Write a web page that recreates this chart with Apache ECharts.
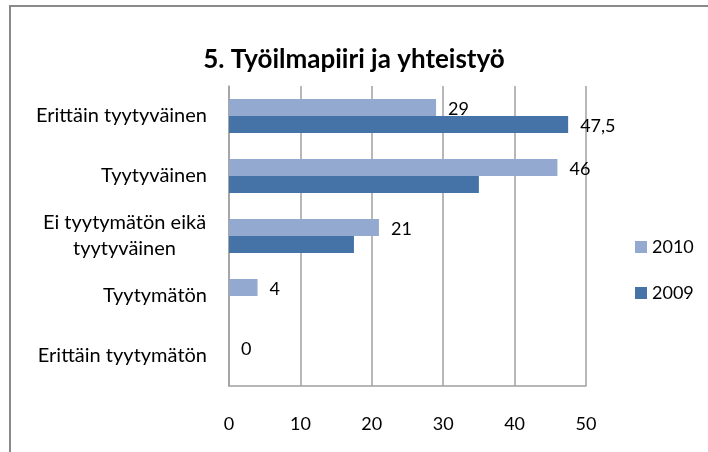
<!DOCTYPE html>
<html>
<head>
<meta charset="utf-8">
<script src="https://cdn.jsdelivr.net/npm/echarts@6/dist/echarts.min.js"></script>
<style>
  html, body { margin: 0; padding: 0; background: #fff; }
  #chart { width: 708px; height: 452px; }
</style>
</head>
<body>
<div id="chart"></div>
<script>
const categories = [
  'Erittäin tyytyväinen',
  'Tyytyväinen',
  'Ei tyytymätön eikä\ntyytyväinen',
  'Tyytymätön',
  'Erittäin tyytymätön'
]
const values2010 = [29, 46, 21, 4, 0]
const values2009 = [47.5, 35, 17.5, 0, 0]
// 2009: only the first bar carries a label in the original
const labels2009 = [true, false, false, false, false]
const xTicks = [0, 10, 20, 30, 40, 50]

const fontFamily = 'Lato, "Open Sans", sans-serif'
const fmt = (v) => String(v).replace('.', ',')

const chart = echarts.init(document.getElementById('chart'))

const option = {
  animation: false,
  backgroundColor: '#fff',
  textStyle: { fontFamily: fontFamily, color: '#000' },
  title: {
    text: '5. Työilmapiiri ja yhteistyö',
    left: 'center',
    top: 42,
    textStyle: { fontFamily: fontFamily, fontSize: 26, fontWeight: 'bold', color: '#000' }
  },
  graphic: [
    {
      type: 'rect',
      shape: { x: 10, y: 6, width: 760, height: 500 },
      style: { fill: 'none', stroke: '#8a8a8a', lineWidth: 2 },
      silent: true
    }
  ],
  legend: {
    orient: 'vertical',
    left: 630,
    top: 233,
    itemWidth: 12,
    itemHeight: 12,
    itemGap: 28,
    icon: 'rect',
    textStyle: { fontFamily: fontFamily, fontSize: 18, color: '#000' },
    data: ['2010', '2009']
  },
  grid: {
    left: 229,
    right: 122,
    top: 86,
    bottom: 66
  },
  xAxis: {
    type: 'value',
    min: xTicks[0],
    max: xTicks[xTicks.length - 1],
    interval: 10,
    axisLine: { show: true, lineStyle: { color: '#a0a0a0', width: 1.5 } },
    axisTick: { show: false },
    splitLine: { show: true, lineStyle: { color: '#a0a0a0', width: 1.5 } },
    axisLabel: { margin: 29, fontSize: 18, color: '#000', fontFamily: fontFamily }
  },
  yAxis: {
    type: 'category',
    inverse: true,
    data: categories,
    axisLine: { show: true, lineStyle: { color: '#a0a0a0', width: 1.5 } },
    axisTick: { show: false },
    axisLabel: {
      margin: 22,
      fontSize: 20,
      color: '#000',
      fontFamily: fontFamily,
      lineHeight: 26,
      formatter: (v) => v.indexOf('\n') >= 0
        ? v.split('\n').map(s => '{c|' + s + '}').join('\n')
        : v,
      rich: {
        c: { width: 165, align: 'center', fontSize: 20, lineHeight: 26, fontFamily: fontFamily, color: '#000' }
      }
    }
  },
  series: [
    {
      name: '2010',
      type: 'bar',
      barWidth: 17,
      barGap: '0%',
      itemStyle: { color: '#94a9d0' },
      label: {
        show: true,
        position: 'right',
        distance: 12,
        offset: [0, 2],
        fontSize: 18,
        color: '#000',
        fontFamily: fontFamily,
        formatter: (p) => fmt(p.value)
      },
      data: values2010
    },
    {
      name: '2009',
      type: 'bar',
      barWidth: 17,
      barGap: '0%',
      itemStyle: { color: '#4673a7' },
      data: values2009.map((v, i) => ({
        value: v,
        label: {
          show: labels2009[i],
          position: 'right',
          distance: 12,
          offset: [0, 2],
          fontSize: 18,
          color: '#000',
          fontFamily: fontFamily,
          formatter: (p) => fmt(p.value)
        }
      }))
    }
  ]
}

chart.setOption(option)
</script>
</body>
</html>
